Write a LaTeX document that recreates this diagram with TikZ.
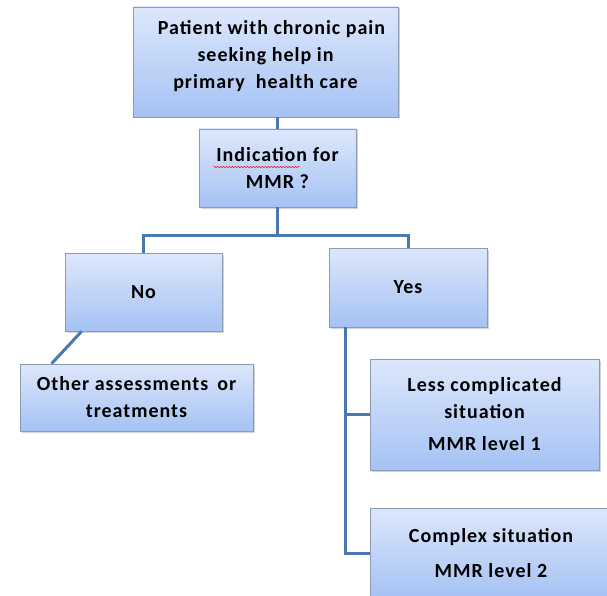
\documentclass[tikz,border=0pt]{standalone}
\usepackage{fontspec}
\setmainfont{Carlito}[LetterSpace=5]
\usetikzlibrary{calc,shadows,decorations.pathmorphing}

\definecolor{boxtop}{HTML}{DDE7FB}
\definecolor{boxbot}{HTML}{A5C2F4}
\definecolor{boxline}{HTML}{8C9BB0}
\definecolor{linkblue}{HTML}{4A79AE}

\tikzset{
  flowbox/.style={draw=boxline, line width=0.8pt, top color=boxtop, bottom color=boxbot,
    drop shadow={shadow xshift=1.5pt, shadow yshift=-1.5pt, opacity=0.35},
    align=center, inner sep=0pt, font=\fontsize{20}{27}\selectfont\bfseries},
  link/.style={draw=linkblue, line width=3pt}
}

\begin{document}
\begin{tikzpicture}[x=1pt,y=-1pt]
    \useasboundingbox (0,0) rectangle (607,596);
    % Draw the boxes
    \node[flowbox, minimum width=265, minimum height=110] (patient) at (265.5,62)
        {\hspace*{12pt}Patient with chronic pain\\seeking help in\\primary \ health care\\[-12pt]~};
    \node[flowbox, minimum width=157, minimum height=78] (indic) at (277.5,168)
        {Indication for\\MMR ?};
    \node[flowbox, minimum width=157, minimum height=78] (no) at (143.5,292) {No};
    \node[flowbox, minimum width=158, minimum height=79] (yes) at (408,287.5) {Yes};
    \node[flowbox, minimum width=233, minimum height=67] (other) at (136.5,397.5)
        {Other assessments \,or\\treatments};
    \node[flowbox, minimum width=229, minimum height=111] (less) at (484.5,414.5)
        {Less complicated\\situation\\[5pt]MMR level 1};
    \node[flowbox, minimum width=242, minimum height=90] (cpx) at (491,553)
        {Complex situation\\[8pt]MMR level 2};
    % Spell check mark
    \draw[red, line width=0.5pt, decorate, decoration={snake, amplitude=0.6pt, segment length=3pt}]
        ($(indic.center)+(-64,-1)$) -- ++(86,0);
    % Draw the connectors
    \draw[link] (patient.south -| indic.north) -- (indic.north);
    \draw[link] (indic.south) -- ++(0,28) coordinate (fork) -| (no.north);
    \draw[link] (fork) -| (yes.north);
    \draw[link] ($(no.south west)+(17,0)$) -- ($(other.north west)+(32,0)$);
    \draw[link] ($(yes.south west)+(17,0)$) coordinate (trunk) |- (cpx.west);
    \draw[link] (trunk |- less.west) -- (less.west);
\end{tikzpicture}
\end{document}
